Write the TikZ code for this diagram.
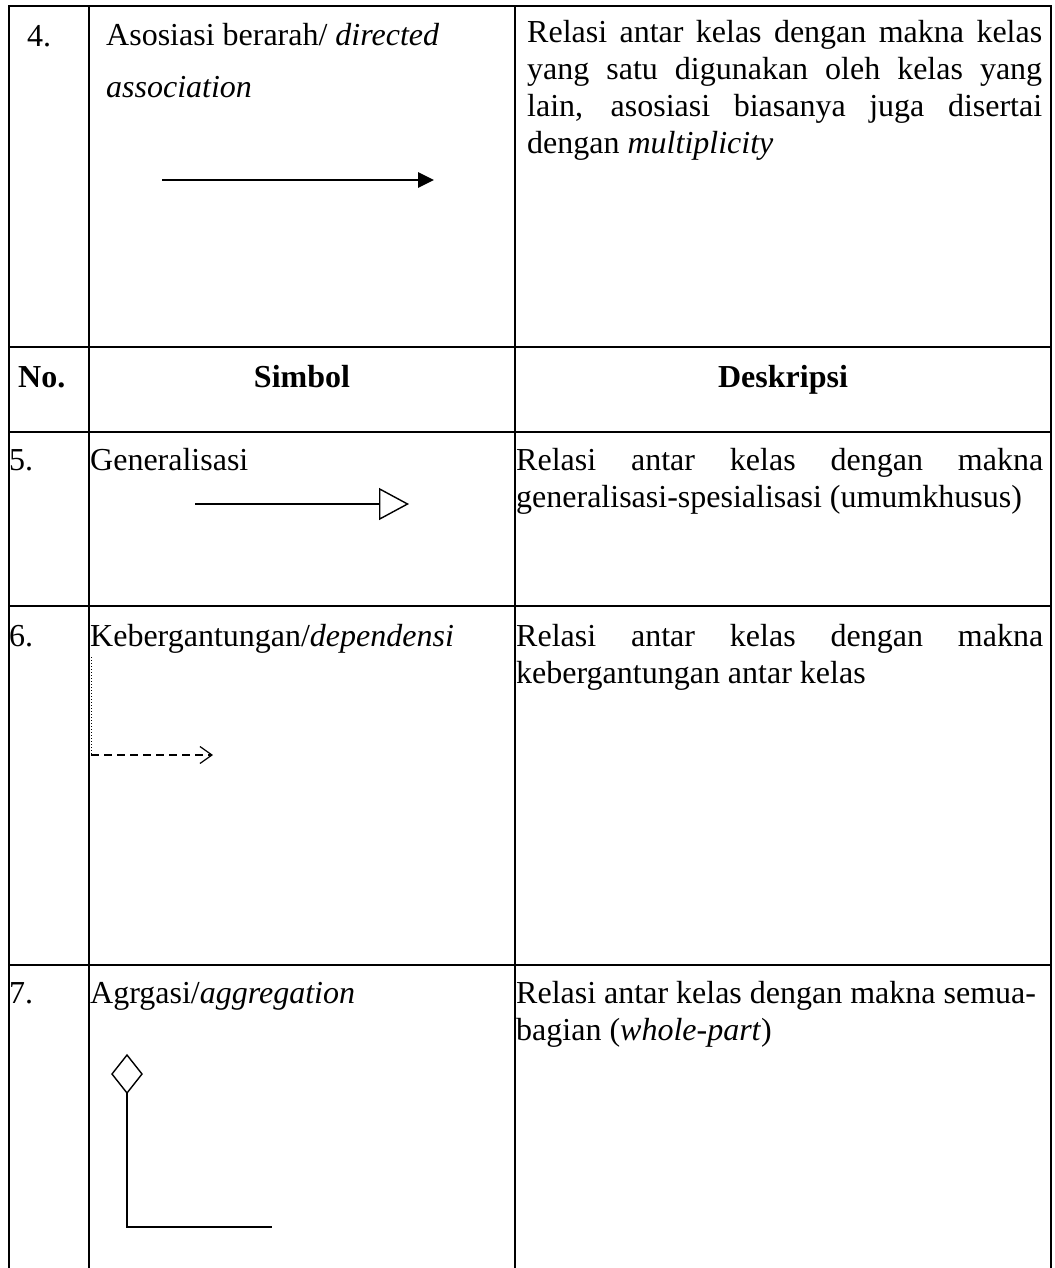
\documentclass[tikz,border=0pt]{standalone}
\usepackage{fontspec}
\setmainfont{Liberation Serif}
\usetikzlibrary{arrows.meta}

\begin{document}
\begin{tikzpicture}[x=1pt,y=-1pt,
  txt/.style={anchor=base west,inner sep=0pt,font=\fontsize{32}{37}\selectfont},
  headtxt/.style={anchor=base,inner sep=0pt,font=\fontsize{32}{37}\selectfont\bfseries},
  rule/.style={line width=1.6pt,line cap=rect},
  symline/.style={line width=1.4pt},
]
\useasboundingbox (0,0) rectangle (1054,1268);

% table grid
\foreach \xx in {9,89,515,1051}
  \draw[rule] (\xx,6) -- (\xx,1268);
\foreach \yy in {6,347,432,606,965}
  \draw[rule] (9,\yy) -- (1051,\yy);

% row 4
\node[txt] (n4) at (27,47) {4.};
\node[txt] (s4a) at (106,46) {Asosiasi berarah/ \textit{directed}};
\node[txt] (s4b) at (106,98) {\textit{association}};
\node[txt] (d4a) at (527,43) {\makebox[515pt][s]{Relasi antar kelas dengan makna kelas}};
\node[txt] (d4b) at (527,80) {\makebox[515pt][s]{yang satu digunakan oleh kelas yang}};
\node[txt] (d4c) at (527,117) {\makebox[515pt][s]{lain, asosiasi biasanya juga disertai}};
\node[txt] (d4d) at (527,154) {dengan \textit{multiplicity}};
\coordinate (as-from) at (162,180);
\coordinate (as-to) at (434,180);
\draw[line width=2.8pt,-{Triangle[length=16pt,width=15pt]}] (as-from) -- (as-to);

% header row
\node[headtxt,anchor=base west] (hno) at (18,387) {No.};
\node[headtxt] (hsym) at (302,387) {Simbol};
\node[headtxt] (hdesc) at (783,387) {Deskripsi};

% row 5
\node[txt] (n5) at (9,470) {5.};
\node[txt] (s5) at (90,470) {Generalisasi};
\node[txt] (d5a) at (516,470) {\makebox[527pt][s]{Relasi antar kelas dengan makna}};
\node[txt] (d5b) at (516,507) {generalisasi-spesialisasi (umumkhusus)};
\coordinate (gen-from) at (195,504);
\coordinate (gen-to) at (409,504);
\draw[symline,-{Triangle[open,length=30pt,width=32pt]}] (gen-from) -- (gen-to);

% row 6
\node[txt] (n6) at (9,646) {6.};
\node[txt] (s6) at (90,646) {Kebergantungan/\textit{dependensi}};
\node[txt] (d6a) at (516,646) {\makebox[527pt][s]{Relasi antar kelas dengan makna}};
\node[txt] (d6b) at (516,683) {kebergantungan antar kelas};
\coordinate (dep-top) at (91,657);
\coordinate (dep-corner) at (91,755);
\coordinate (dep-to) at (213,755);
\draw[line width=1pt,dotted] (dep-top) -- (dep-corner);
\draw[line width=1.2pt,dash pattern=on 8pt off 5pt,
      -{Straight Barb[length=12pt,width=17pt,line width=1.2pt]}] (dep-corner) -- (dep-to);

% row 7
\node[txt] (n7) at (9,1003) {7.};
\node[txt] (s7) at (90,1003) {Agrgasi/\textit{aggregation}};
\node[txt] (d7a) at (516,1003) {Relasi antar kelas dengan makna semua-};
\node[txt] (d7b) at (516,1040) {bagian (\textit{whole-part})};
\coordinate (dia-n) at (127,1055);
\coordinate (dia-e) at (142,1074);
\coordinate (dia-s) at (127,1093);
\coordinate (dia-w) at (112,1074);
\coordinate (agg-corner) at (127,1227);
\coordinate (agg-end) at (272,1227);
\draw[symline,line join=miter] (dia-n) -- (dia-e) -- (dia-s) -- (dia-w) -- cycle;
\draw[symline] (dia-s) -- (agg-corner) -- (agg-end);
\end{tikzpicture}
\end{document}
